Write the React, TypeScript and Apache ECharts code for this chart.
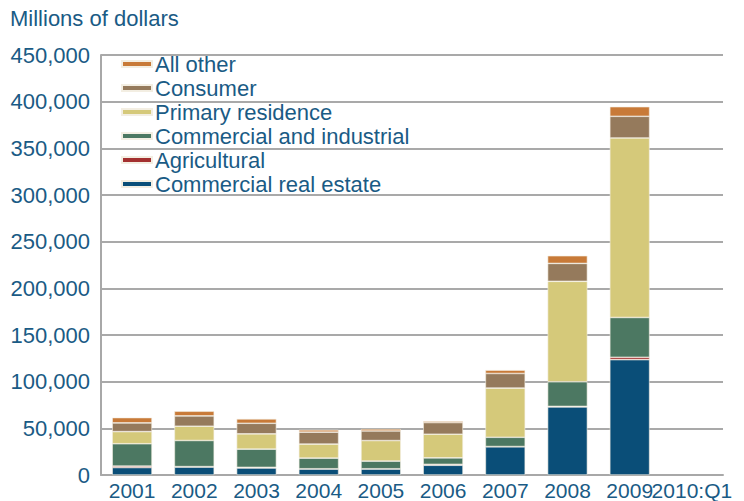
import React, { useEffect, useRef } from "react";
import * as echarts from "echarts";

const categories = ["2001", "2002", "2003", "2004", "2005", "2006", "2007", "2008", "2009", "2010:Q1"];
const commercialRealEstate = [8000, 8500, 7500, 6400, 6400, 10400, 30200, 73000, 123600, null];
const agricultural = [1500, 500, 700, 300, 300, 1000, 300, 500, 2500, null];
const commercialIndustrial = [24000, 28000, 19500, 11400, 8200, 7000, 9900, 26400, 42700, null];
const primaryResidence = [13000, 15300, 16400, 15000, 22000, 25300, 52700, 107600, 192300, null];
const consumer = [9300, 11000, 11300, 12800, 10300, 12500, 15700, 19200, 23200, null];
const allOther = [5700, 5000, 4700, 2500, 2100, 1400, 3600, 8200, 10300, null];
const yTicks = [0, 50000, 100000, 150000, 200000, 250000, 300000, 350000, 400000, 450000];

const TEXT = "#1a5b85";

export default function App() {
  const ref = useRef<HTMLDivElement>(null);
  useEffect(() => {
    const chart = echarts.init(ref.current!, null, { renderer: "svg" });
    const mk = (name: string, data: (number | null)[], color: string) => ({
      name,
      type: "bar",
      stack: "total",
      data,
      barWidth: "64%",
      itemStyle: { color, borderColor: "#f3eee2", borderWidth: 0.6 },
    });
    chart.setOption({
      animation: false,
      backgroundColor: "#ffffff",
      textStyle: { fontFamily: "Liberation Sans, Arial, sans-serif" },
      grid: { left: 101, right: 21, top: 55, bottom: 25, containLabel: false },
      legend: {
        orient: "vertical",
        left: 121,
        top: 53,
        padding: 0,
        itemWidth: 30,
        itemHeight: 6,
        itemGap: 2,
        icon: "rect",
        data: ["All other", "Consumer", "Primary residence", "Commercial and industrial", "Agricultural", "Commercial real estate"],
        textStyle: { color: TEXT, fontSize: 22, lineHeight: 20, padding: [0, 0, 0, -2] },
      },
      xAxis: {
        type: "category",
        data: categories,
        axisLine: { lineStyle: { color: "#a8a8a8", width: 2 } },
        axisTick: { show: false },
        axisLabel: { color: TEXT, fontSize: 21, margin: 5, interval: 0 },
      },
      yAxis: {
        type: "value",
        min: 0,
        max: 450000,
        interval: 50000,
        name: "Millions of dollars",
        nameLocation: "end",
        nameGap: 26,
        nameTextStyle: { color: TEXT, fontSize: 22, align: "left", padding: [0, 0, 0, -91] },
        axisLine: { show: true, lineStyle: { color: "#a8a8a8", width: 2 } },
        axisTick: { show: false },
        splitLine: { lineStyle: { color: "#8c8c8c", width: 1.5 } },
        axisLabel: {
          color: TEXT,
          fontSize: 22,
          margin: 11,
          formatter: (v: number) => (yTicks.includes(v) ? v.toLocaleString("en-US") : ""),
        },
      },
      series: [
        mk("Commercial real estate", commercialRealEstate, "#0a4e78"),
        mk("Agricultural", agricultural, "#a33030"),
        mk("Commercial and industrial", commercialIndustrial, "#4c7862"),
        mk("Primary residence", primaryResidence, "#d5c97a"),
        mk("Consumer", consumer, "#957a5c"),
        mk("All other", allOther, "#c87a38"),
      ],
    });
    return () => chart.dispose();
  }, []);
  return <div ref={ref} style={{ position: "fixed", left: 0, top: 0, width: 744, height: 501 }} />;
}
